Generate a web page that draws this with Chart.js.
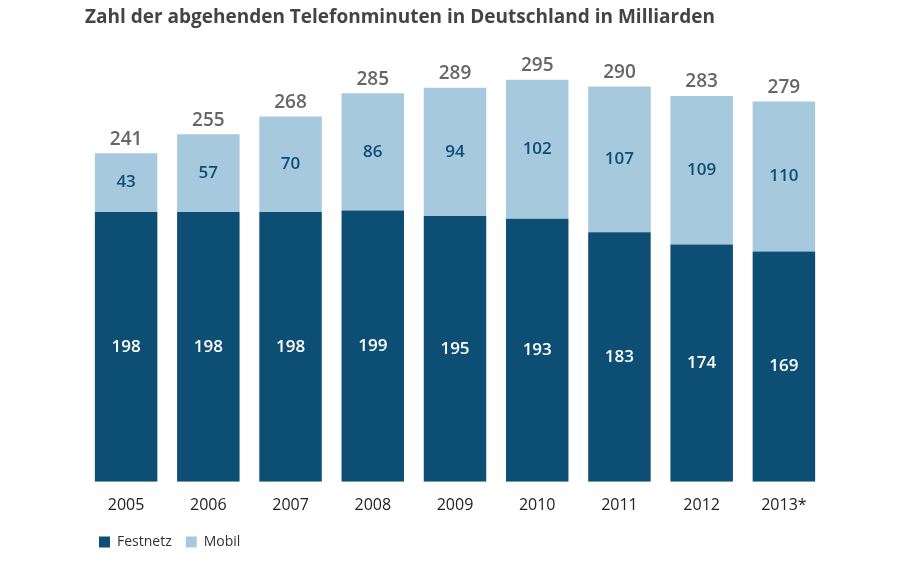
<!DOCTYPE html>
<html>
<head>
<meta charset="utf-8">
<script src="https://cdn.jsdelivr.net/npm/chart.js@4"></script>
<style>
body { margin: 0; background: #fff; }
#wrap { width: 900px; height: 563px; position: relative; }
</style>
</head>
<body>
<div id="wrap"><canvas id="myChart" width="900" height="563"></canvas></div>
<script>
var years = ["2005", "2006", "2007", "2008", "2009", "2010", "2011", "2012", "2013*"]
var festnetz = [198, 198, 198, 199, 195, 193, 183, 174, 169]
var mobil = [43, 57, 70, 86, 94, 102, 107, 109, 110]
var totals = [241, 255, 268, 285, 289, 295, 290, 283, 279]

var dark = "#0d4f74"
var light = "#a6c9dd"
var font = "'Open Sans', 'Noto Sans', sans-serif"

// draws the values inside the bars and the totals above
var labelPlugin = {
	id: 'labels',
	afterDatasetsDraw: function(chart) {
		var ctx = chart.ctx
		ctx.save()
		ctx.textAlign = 'center'
		ctx.textBaseline = 'middle'
		ctx.font = "600 17px " + font
		chart.getDatasetMeta(0).data.forEach(function(bar, i) {
			ctx.fillStyle = "#ffffff"
			ctx.fillText(festnetz[i], bar.x, (bar.y + bar.base) / 2)
		})
		chart.getDatasetMeta(1).data.forEach(function(bar, i) {
			ctx.fillStyle = dark
			ctx.fillText(mobil[i], bar.x, (bar.y + bar.base) / 2)
			ctx.fillStyle = "#666666"
			ctx.font = "600 19px " + font
			ctx.fillText(totals[i], bar.x, bar.y - 14)
			ctx.font = "600 17px " + font
		})
		ctx.restore()
	}
}

var canvasCtx = document.getElementById("myChart").getContext('2d')
var config = {
	type: 'bar',
	data: {
		labels: years,
		datasets: [
			{label: "Festnetz", data: festnetz, backgroundColor: dark, barPercentage: 0.76, categoryPercentage: 1},
			{label: "Mobil", data: mobil, backgroundColor: light, barPercentage: 0.76, categoryPercentage: 1}
		]
	},
	options: {
		responsive: false,
		maintainAspectRatio: false,
		animation: false,
		layout: {padding: {left: 85, right: 75, top: 0, bottom: 4}},
		plugins: {
			title: {
				display: true, text: "Zahl der abgehenden Telefonminuten in Deutschland in Milliarden",
				align: 'start', color: "#444444", font: {family: font, size: 19}, padding: {top: 6, bottom: 10}
			},
			legend: {
				position: 'bottom', align: 'start',
				labels: {boxWidth: 11, boxHeight: 11, color: "#333333", font: {family: font, size: 14}, padding: 14}
			},
			tooltip: {enabled: false}
		},
		scales: {
			x: {
				stacked: true,
				grid: {display: false},
				border: {display: false},
				ticks: {color: "#222222", font: {family: font, size: 16}, padding: 6}
			},
			y: {
				stacked: true, display: false, min: 0, max: 325
			}
		}
	},
	plugins: [labelPlugin]
}
var myChart = new Chart(canvasCtx, config)
</script>
</body>
</html>
